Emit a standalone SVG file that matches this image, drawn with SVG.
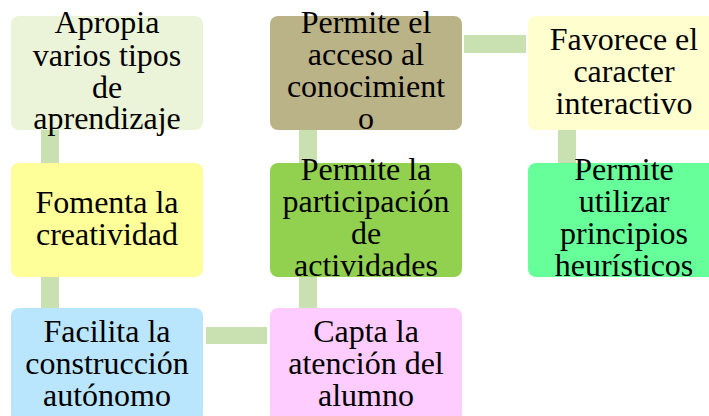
<svg xmlns="http://www.w3.org/2000/svg" width="709" height="416" viewBox="0 0 709 416">
<style>
.t{font-family:'Liberation Serif','Times New Roman',serif;font-size:32px;fill:#000;text-anchor:middle}
.c{fill:#C9E0B0}
</style>
<rect width="709" height="416" fill="#fff"/>
<g id="connectors">
<rect class="c" x="41" y="129" width="18" height="35"/>
<rect class="c" x="41" y="276" width="18" height="33"/>
<rect class="c" x="206" y="327" width="61" height="17"/>
<rect class="c" x="299" y="276" width="18" height="33"/>
<rect class="c" x="299" y="129" width="18" height="35"/>
<rect class="c" x="464" y="35" width="62" height="18"/>
<rect class="c" x="558" y="129" width="18" height="35"/>
</g>
<g id="n1"><rect rx="8" x="11" y="16" width="192" height="114" fill="#EBF3D9"/>
<text class="t"><tspan x="107" y="33">Apropia</tspan><tspan x="107" y="66">varios tipos</tspan><tspan x="107" y="98">de</tspan><tspan x="107" y="129">aprendizaje</tspan></text></g>
<g id="n2"><rect rx="8" x="11" y="163" width="192" height="114" fill="#FFFF99"/>
<text class="t"><tspan x="107" y="213">Fomenta la</tspan><tspan x="107" y="245">creatividad</tspan></text></g>
<g id="n3"><rect rx="8" x="11" y="308" width="192" height="114" fill="#B9E6FD"/>
<text class="t"><tspan x="107" y="342">Facilita la</tspan><tspan x="107" y="374">construcción</tspan><tspan x="107" y="406">autónomo</tspan></text></g>
<g id="n4"><rect rx="8" x="270" y="308" width="192" height="114" fill="#FFCCFF"/>
<text class="t"><tspan x="366" y="342">Capta la</tspan><tspan x="366" y="374">atención del</tspan><tspan x="366" y="406">alumno</tspan></text></g>
<g id="n5"><rect rx="8" x="270" y="163" width="192" height="114" fill="#92D050"/>
<text class="t"><tspan x="366" y="180">Permite la</tspan><tspan x="366" y="212">participación</tspan><tspan x="366" y="244">de</tspan><tspan x="366" y="276">actividades</tspan></text></g>
<g id="n6"><rect rx="8" x="270" y="16" width="192" height="114" fill="#BBB388"/>
<text class="t"><tspan x="366" y="33">Permite el</tspan><tspan x="366" y="65">acceso al</tspan><tspan x="366" y="97">conocimient</tspan><tspan x="366" y="129">o</tspan></text></g>
<g id="n7"><rect rx="8" x="528" y="16" width="192" height="114" fill="#FEFECE"/>
<text class="t"><tspan x="624" y="50">Favorece el</tspan><tspan x="624" y="82">caracter</tspan><tspan x="624" y="114">interactivo</tspan></text></g>
<g id="n8"><rect rx="8" x="528" y="163" width="192" height="114" fill="#66FF99"/>
<text class="t"><tspan x="624" y="180">Permite</tspan><tspan x="624" y="212">utilizar</tspan><tspan x="624" y="244">principios</tspan><tspan x="624" y="276">heurísticos</tspan></text></g>
</svg>
